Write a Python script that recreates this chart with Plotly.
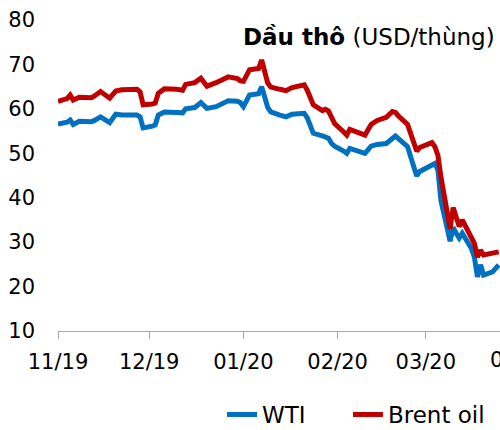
import plotly.graph_objects as go
import pandas as pd

dates = [
    "2019-11-01", "2019-11-04", "2019-11-05", "2019-11-06", "2019-11-08", "2019-11-12",
    "2019-11-13", "2019-11-15", "2019-11-18", "2019-11-20", "2019-11-22", "2019-11-25",
    "2019-11-27", "2019-11-28", "2019-11-29", "2019-12-02", "2019-12-03", "2019-12-04",
    "2019-12-06", "2019-12-10", "2019-12-12", "2019-12-13", "2019-12-16", "2019-12-18",
    "2019-12-20", "2019-12-23", "2019-12-27", "2019-12-30", "2019-12-31", "2020-01-01",
    "2020-01-03", "2020-01-06", "2020-01-07", "2020-01-09", "2020-01-10", "2020-01-13",
    "2020-01-15", "2020-01-17", "2020-01-20", "2020-01-21", "2020-01-22", "2020-01-24",
    "2020-01-27", "2020-01-28", "2020-01-29", "2020-01-30", "2020-01-31", "2020-02-03",
    "2020-02-04", "2020-02-05", "2020-02-07", "2020-02-10", "2020-02-12", "2020-02-14",
    "2020-02-17", "2020-02-19", "2020-02-20", "2020-02-21", "2020-02-24", "2020-02-25",
    "2020-02-26", "2020-02-27", "2020-02-28", "2020-03-02", "2020-03-03", "2020-03-04",
    "2020-03-05", "2020-03-06", "2020-03-09", "2020-03-10", "2020-03-11", "2020-03-12",
    "2020-03-13", "2020-03-16", "2020-03-17", "2020-03-18", "2020-03-19", "2020-03-20",
    "2020-03-23", "2020-03-24", "2020-03-25",
]

wti = [
    56.6, 57.0, 57.5, 56.5, 57.2, 57.1,
    57.4, 58.2, 56.9, 58.8, 58.6, 58.5,
    58.6, 58.2, 55.7, 56.1, 56.4, 58.6,
    59.3, 59.2, 59.1, 60.0, 60.3, 61.4,
    60.1, 60.5, 61.8, 61.7, 61.4, 60.5,
    63.1, 63.4, 65.0, 60.3, 59.3, 58.6,
    58.2, 58.8, 58.9, 59.0, 58.0, 54.5,
    53.9, 53.7, 53.4, 52.2, 51.6, 50.5,
    50.0, 51.1, 50.6, 50.0, 51.6, 52.0,
    52.2, 53.2, 53.9, 53.3, 51.5, 49.3,
    47.2, 44.9, 45.9, 47.0, 47.6, 47.7,
    46.2, 39.3, 30.2, 33.3, 32.0, 30.9,
    32.0, 28.6, 26.6, 22.2, 24.9, 22.6,
    23.3, 24.0, 24.9,
]

brent = [
    61.7, 62.3, 63.1, 62.0, 62.6, 62.5,
    62.9, 63.9, 62.4, 64.0, 64.3, 64.3,
    64.4, 63.8, 60.9, 61.1, 61.3, 63.5,
    64.5, 64.4, 64.2, 65.5, 65.9, 66.9,
    65.1, 65.9, 67.2, 66.8, 66.3, 66.2,
    68.8, 69.1, 71.0, 65.8, 64.9, 64.4,
    64.1, 64.8, 65.1, 65.4, 64.2, 60.9,
    59.6, 59.9, 59.5, 58.0, 56.7, 54.8,
    54.1, 55.4, 54.8, 54.1, 56.5, 57.4,
    58.1, 59.4, 59.2, 58.4, 56.5, 54.3,
    52.3, 50.5, 51.3, 52.1, 52.4, 51.5,
    49.5, 44.6, 33.0, 37.8, 35.5, 33.5,
    35.0, 31.2, 29.7, 26.6, 28.2, 27.1,
    27.4, 27.6, 27.8,
]

series_names = ["WTI", "Brent oil"]
series_colors = ["#0070C0", "#C00000"]
y_ticks = [10, 20, 30, 40, 50, 60, 70, 80]
x_start = "2019-11-01"
x_end = "2020-03-25 10:00"
hidden_tick = "2020-04-01"
title_bold = "Dầu thô"
title_rest = "(USD/thùng)"

FONT = "DejaVu Sans"

fig = go.Figure()
for name, vals, col, lg in zip(series_names, [wti, brent], series_colors,
                               ["legend", "legend2"]):
    fig.add_trace(go.Scatter(
        x=dates, y=vals, name=name, mode="lines",
        line=dict(color=col, width=5), legend=lg,
    ))

# position of the (cropped) April tick label in paper coordinates
t0 = pd.Timestamp(x_start)
t1 = pd.Timestamp(x_end)
frac = (pd.Timestamp(hidden_tick) - t0) / (t1 - t0)

legend_common = dict(
    orientation="h", xanchor="left",
    yref="container", y=0.036, yanchor="middle",
    font=dict(family=FONT, size=23, color="black"),
    bgcolor="rgba(0,0,0,0)",
)

fig.update_layout(
    width=500, height=430,
    margin=dict(l=58, r=0, t=20, b=99, autoexpand=False),
    paper_bgcolor="white", plot_bgcolor="white",
    font=dict(family=FONT, size=21, color="black"),
    showlegend=True,
    legend=dict(x=0.371, **legend_common),
    legend2=dict(x=0.656, **legend_common),
    xaxis=dict(
        type="date", range=[x_start, x_end],
        tick0=x_start, dtick="M1", tickformat="%m/%y",
        showline=True, linecolor="#A6A6A6", linewidth=1.3,
        ticks="outside", ticklen=7, tickcolor="#A6A6A6", tickwidth=1.3,
        ticklabelstandoff=5,
        showgrid=False, zeroline=False,
        tickfont=dict(family=FONT, size=21, color="black"),
    ),
    yaxis=dict(
        range=[10, 80], tickvals=y_ticks,
        showline=False, showgrid=False, zeroline=False, ticks="",
        ticklabelstandoff=22,
        tickfont=dict(family=FONT, size=21, color="black"),
    ),
    annotations=[
        dict(
            text=f"<b>{title_bold}</b> {title_rest}",
            xref="paper", yref="paper", x=1, y=0.945,
            xanchor="right", yanchor="middle", xshift=-3,
            showarrow=False, font=dict(family=FONT, size=23, color="black"),
        ),
        dict(
            text=pd.Timestamp(hidden_tick).strftime("%m/%y"),
            xref="paper", yref="paper", x=frac, y=0,
            xanchor="center", yanchor="top", yshift=-15,
            showarrow=False, font=dict(family=FONT, size=21, color="black"),
        ),
    ],
)

fig.write_html(
    "out.html",
    config={"displayModeBar": False},
    post_script="document.body.style.margin='0';document.body.style.overflow='hidden';",
)
